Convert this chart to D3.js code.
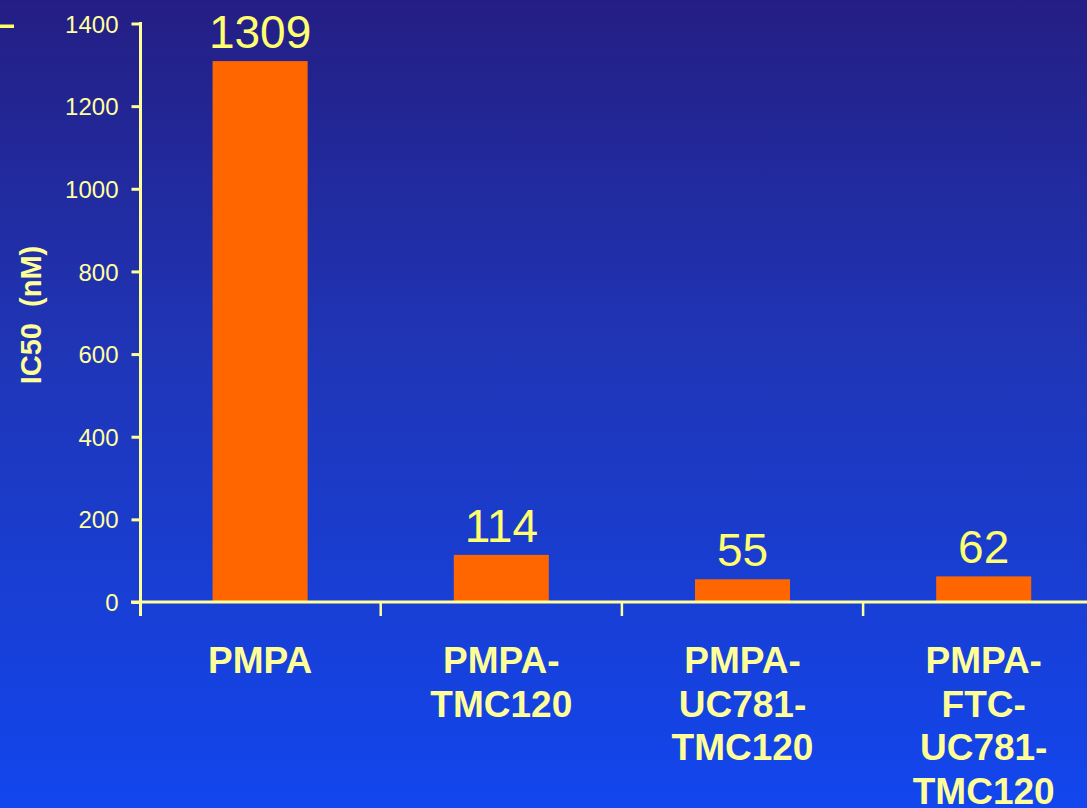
<!DOCTYPE html>
<html>
<head>
<meta charset="utf-8">
<script src="https://cdn.jsdelivr.net/npm/d3@7"></script>
<style>
  html, body { margin: 0; padding: 0; background: #1a3ccc; }
  svg { display: block; font-family: "Liberation Sans", Arial, sans-serif; }
</style>
</head>
<body>
<svg id="chart" width="1087" height="808"></svg>
<script>
// IC50 values per compound formulation
const categories = [
  ["PMPA"],
  ["PMPA-", "TMC120"],
  ["PMPA-", "UC781-", "TMC120"],
  ["PMPA-", "FTC-", "UC781-", "TMC120"]
];
const values = [1309, 114, 55, 62];
const yTicks = [0, 200, 400, 600, 800, 1000, 1200, 1400];
const yTitle = "IC50  (nM)";

(function () {
  const W = 1087, H = 808;
  const svg = d3.select("#chart");

  // Background gradient: deep navy at the top to bright blue at the bottom
  const defs = svg.append("defs");
  const grad = defs.append("linearGradient")
    .attr("id", "bg").attr("x1", 0).attr("y1", 0).attr("x2", 0).attr("y2", 1);
  grad.append("stop").attr("offset", "0%").attr("stop-color", "#241e84");
  grad.append("stop").attr("offset", "45%").attr("stop-color", "#1f36b8");
  grad.append("stop").attr("offset", "100%").attr("stop-color", "#1246ee");
  svg.append("rect").attr("width", W).attr("height", H).attr("fill", "url(#bg)");

  // Small decorative dash at the top-left corner
  svg.append("rect").attr("x", 0).attr("y", 24.5).attr("width", 14).attr("height", 3.5)
    .attr("fill", "#ffff66");

  const axisColor = "#ffff99";
  const plotLeft = 140.5, plotBase = 602, plotTop = 23.5;
  const bandStart = 139.5, step = 241.2;

  const keys = categories.map(c => c.join(""));
  const x = d3.scaleBand()
    .domain(keys)
    .range([bandStart, bandStart + step * keys.length])
    .paddingInner(0.606)
    .paddingOuter(0.303);

  const y = d3.scaleLinear().domain([0, 1400]).range([plotBase, plotTop]);

  // Bars
  svg.append("g").selectAll("rect")
    .data(values)
    .join("rect")
    .attr("x", (d, i) => x(keys[i]))
    .attr("y", d => y(d))
    .attr("width", x.bandwidth())
    .attr("height", d => plotBase - y(d))
    .attr("fill", "#ff6600");

  // Value labels above the bars
  svg.append("g").selectAll("text")
    .data(values)
    .join("text")
    .attr("x", (d, i) => x(keys[i]) + x.bandwidth() / 2)
    .attr("y", d => y(d) - 13)
    .attr("text-anchor", "middle")
    .attr("font-size", 46)
    .attr("fill", "#ffff70")
    .text(d => d);

  // Y axis
  const yAxis = svg.append("g")
    .attr("transform", `translate(${plotLeft},0)`)
    .call(d3.axisLeft(y).tickValues(yTicks).tickFormat(d3.format("d"))
      .tickSize(9).tickSizeOuter(0).tickPadding(13));
  yAxis.select(".domain").remove();
  yAxis.selectAll(".tick line").attr("stroke", axisColor).attr("stroke-width", 3);
  yAxis.selectAll(".tick text")
    .attr("fill", "#ffffa0")
    .attr("font-size", 24)
    .attr("font-family", "Liberation Sans, Arial, sans-serif")
    .attr("dy", "0.36em");
  svg.append("line")
    .attr("x1", plotLeft).attr("x2", plotLeft)
    .attr("y1", plotTop - 1.5).attr("y2", 616)
    .attr("stroke", axisColor).attr("stroke-width", 3);

  // X axis baseline and category boundary ticks
  svg.append("line")
    .attr("x1", 131).attr("x2", W)
    .attr("y1", plotBase).attr("y2", plotBase)
    .attr("stroke", axisColor).attr("stroke-width", 3);
  const bounds = keys.slice(1).map(k => x(k) + x.bandwidth() / 2 - x.step() / 2);
  svg.append("g").selectAll("line")
    .data(bounds)
    .join("line")
    .attr("x1", d => d).attr("x2", d => d)
    .attr("y1", plotBase).attr("y2", 616)
    .attr("stroke", axisColor).attr("stroke-width", 2.5);

  // Category labels (multi-line)
  const catG = svg.append("g");
  categories.forEach((lines, i) => {
    const cx = x(keys[i]) + x.bandwidth() / 2;
    const t = catG.append("text")
      .attr("x", cx)
      .attr("y", 673)
      .attr("text-anchor", "middle")
      .attr("font-size", 37)
      .attr("font-weight", "bold")
      .attr("fill", "#ffff99");
    lines.forEach((ln, j) => {
      t.append("tspan")
        .attr("x", cx)
        .attr("dy", j === 0 ? 0 : 43.5)
        .text(ln);
    });
  });

  // Y axis title
  svg.append("text")
    .attr("transform", "translate(41,315) rotate(-90)")
    .attr("text-anchor", "middle")
    .attr("font-size", 29)
    .attr("font-weight", "bold")
    .attr("fill", "#ffff99")
    .style("white-space", "pre")
    .text(yTitle);
})();
</script>
</body>
</html>
